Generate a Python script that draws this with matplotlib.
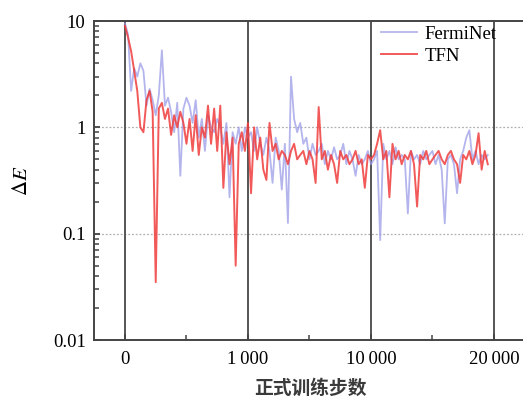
import numpy as np
import matplotlib
matplotlib.use("Agg")
import matplotlib.pyplot as plt
from matplotlib.ticker import FixedLocator, NullFormatter, LogLocator

plt.rcParams["mathtext.fontset"] = "stix"

# training steps: three logging blocks, each shown on an equal-width segment
steps_a = np.linspace(0, 1000, 41)
steps_b = np.linspace(1225, 10000, 40)
steps_c = np.linspace(10250, 19500, 38)
steps = np.concatenate([steps_a, steps_b, steps_c])

# energy error of the two models
fermi_a = [9.5, 7.5, 2.2, 3.6, 3.0, 4.0, 3.4, 1.6, 2.3, 1.8,
           1.3, 2.0, 5.3, 1.6, 1.9, 1.4, 0.9, 1.7, 0.35, 1.5,
           1.9, 1.6, 1.1, 1.8, 0.8, 1.2, 0.6, 1.3, 1.0, 0.9,
           1.2, 1.0, 0.7, 1.1, 0.22, 0.9, 0.7, 1.0, 0.6, 1.0, 0.8]
fermi_b = [0.9, 0.6, 1.0, 0.7, 0.55, 0.8, 0.6, 0.3, 0.8, 0.6,
           0.26, 0.7, 0.126, 3.0, 1.2, 0.9, 1.1, 0.7, 0.8, 0.5,
           0.7, 0.55, 0.6, 0.7, 0.45, 0.6, 0.5, 0.65, 0.5, 0.55,
           0.7, 0.45, 0.6, 0.5, 0.35, 0.55, 0.45, 0.5, 0.6, 0.45]
fermi_c = [0.5, 0.6, 0.087, 0.7, 0.5, 0.6, 0.45, 0.65, 0.5, 0.55,
           0.5, 0.155, 0.6, 0.5, 0.55, 0.45, 0.6, 0.5, 0.55, 0.6,
           0.45, 0.55, 0.4, 0.125, 0.5, 0.55, 0.45, 0.24, 0.5, 0.6,
           0.8, 0.94, 0.5, 0.6, 0.45, 0.55, 0.5, 0.55]

tfn_a = [9.0, 7.0, 5.2, 3.4, 2.2, 1.0, 0.9, 1.8, 2.2, 1.4,
         0.035, 1.5, 1.7, 1.2, 1.5, 0.85, 1.3, 1.0, 1.4, 1.1,
         0.7, 1.2, 0.6, 1.3, 0.55, 1.0, 0.8, 1.6, 0.7, 1.5,
         0.6, 1.6, 0.27, 0.9, 0.45, 0.8, 0.05, 0.7, 0.9, 0.6, 1.1]
tfn_b = [0.24, 1.0, 0.5, 0.8, 0.4, 0.32, 1.1, 0.6, 0.7, 0.5,
         0.6, 0.55, 0.45, 0.6, 0.7, 0.5, 0.55, 0.6, 0.45, 0.6,
         0.5, 0.3, 1.55, 0.5, 0.6, 0.4, 0.55, 0.45, 0.3, 0.6,
         0.5, 0.55, 0.45, 0.5, 0.6, 0.45, 0.5, 0.27, 0.55, 0.5]
tfn_c = [0.55, 0.7, 0.94, 0.5, 0.6, 0.22, 0.7, 0.5, 0.6, 0.45,
         0.55, 0.5, 0.6, 0.45, 0.18, 0.55, 0.5, 0.6, 0.45, 0.5,
         0.55, 0.6, 0.5, 0.45, 0.55, 0.6, 0.5, 0.45, 0.3, 0.55,
         0.5, 0.6, 0.45, 0.55, 0.88, 0.4, 0.6, 0.45]

fermi = np.array(fermi_a + fermi_b + fermi_c)
tfn = np.array(tfn_a + tfn_b + tfn_c)

x_ticks = [0, 1000, 10000, 20000]
x_tick_labels = ["0", "1\u2009000", "10\u2009000", "20\u2009000"]
x_minor = [500, 5500, 15000]
y_ticks = [0.01, 0.1, 1, 10]
y_tick_labels = ["0.01", "0.1", "1", "10"]

# piecewise axis: 0-1000, 1000-10000 and 10000-20000 each get one unit
knots_steps = [-1000, 0, 1000, 10000, 20000, 30000]
knots_pos = [-1, 0, 1, 2, 3, 4]


def forward(x):
    return np.interp(x, knots_steps, knots_pos)


def inverse(s):
    return np.interp(s, knots_pos, knots_steps)


serif = ["Liberation Serif", "DejaVu Serif"]
cjk = ["Noto Sans CJK SC", "DejaVu Sans"]

fig = plt.figure(figsize=(5.23, 4.07), dpi=100)
ax = fig.add_axes([0.1797, 0.1646, 0.84, 0.7838])

ax.set_xscale("function", functions=(forward, inverse))
ax.set_yscale("log")

ax.plot(steps, fermi, color="#9c9ce8", lw=1.3, alpha=0.75, label="FermiNet")
ax.plot(steps, tfn, color="#f03c3c", lw=1.4, alpha=0.85, label="TFN")

ax.set_xlim(-252, 23200)
ax.set_ylim(0.01, 10)

for xv in x_ticks:
    ax.axvline(xv, color="#555555", lw=1.4, zorder=0.5)
for yv in [0.1, 1]:
    ax.axhline(yv, color="#b0b0b0", lw=0.9, ls=(0, (1.5, 1.5)), zorder=0.4)

ax.xaxis.set_major_locator(FixedLocator(x_ticks))
ax.xaxis.set_minor_locator(FixedLocator(x_minor))
ax.xaxis.set_minor_formatter(NullFormatter())
ax.set_xticklabels(x_tick_labels, fontfamily=serif, fontsize=13.5)
ax.set_yticks(y_ticks)
ax.set_yticklabels(y_tick_labels, fontfamily=serif, fontsize=13.5)
ax.yaxis.set_minor_locator(LogLocator(base=10, subs=np.arange(2, 10)))
ax.yaxis.set_minor_formatter(NullFormatter())
ax.tick_params(axis="both", which="major", direction="in", length=4.5,
               width=1.3, color="#444444", pad=6)
ax.tick_params(axis="both", which="minor", direction="in", length=3.5,
               width=1.1, color="#444444")
ax.tick_params(axis="x", which="major", pad=8)

for side in ["left", "bottom", "top"]:
    ax.spines[side].set_color("#444444")
    ax.spines[side].set_linewidth(1.4)
ax.spines["right"].set_visible(False)

ax.set_ylabel(r"$\Delta E$", fontsize=15, labelpad=16)
fig.text(0.593, 0.022, "正式训练步数", fontfamily=cjk, fontsize=13.5,
         fontweight="bold", color="#3a3a3a", ha="center", va="bottom")

ax.legend(loc="upper left", bbox_to_anchor=(0.715, 0.955),
          bbox_transform=fig.transFigure, frameon=False,
          prop={"family": serif, "size": 13.5}, handlelength=1.9,
          handletextpad=0.4, labelspacing=0.25, borderaxespad=0)

fig.savefig("out.png", dpi=100)
